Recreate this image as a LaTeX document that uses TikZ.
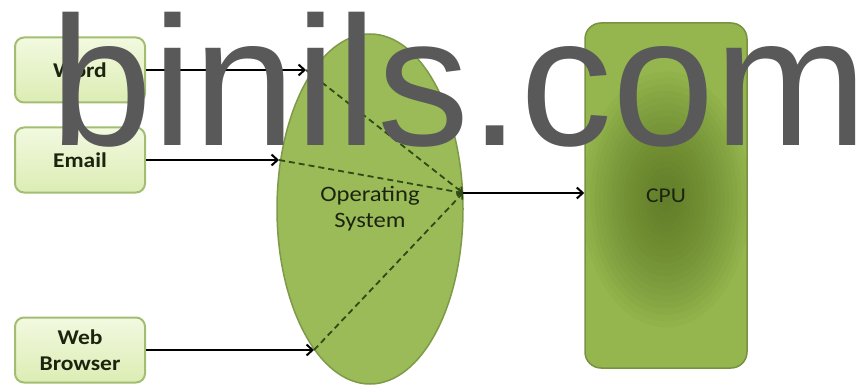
\documentclass[tikz,border=0pt]{standalone}
\usepackage{fontspec}
\usetikzlibrary{shapes.geometric,arrows.meta,positioning}
\newfontfamily\diagfont[FakeStretch=1.12]{Carlito}
\newfontfamily\markfont{Liberation Sans}
\definecolor{boxedge}{HTML}{A3BE73}
\definecolor{boxtop}{HTML}{F2F9E0}
\definecolor{boxbot}{HTML}{DCEDB4}
\definecolor{osfill}{HTML}{9BBB59}
\definecolor{osedge}{HTML}{7E9A48}
\definecolor{cpudark}{HTML}{52691E}
\definecolor{cpulight}{HTML}{95B64E}
\definecolor{cpuedge}{HTML}{789240}
\definecolor{routegreen}{HTML}{2F4A14}
\definecolor{txtdark}{HTML}{1C2410}
\definecolor{markgray}{HTML}{595959}

\begin{document}
\begin{tikzpicture}[x=1pt, y=-1pt,
  appbox/.style={draw=boxedge, line width=2pt, rounded corners=9pt,
    top color=boxtop, bottom color=boxbot, minimum width=130pt,
    minimum height=65pt, align=center, text=txtdark,
    font=\diagfont\fontsize{21}{26}\selectfont\bfseries},
  osnode/.style={ellipse, draw=osedge, fill=osfill, line width=1.5pt,
    minimum width=186pt, minimum height=350pt, inner sep=0pt, align=center,
    text=txtdark, font=\diagfont\fontsize{22}{26}\selectfont},
  cpunode/.style={draw=cpuedge, line width=1.5pt, rounded corners=16pt,
    fill=cpulight, minimum width=162pt, minimum height=345pt,
    path picture={
      \foreach \k in {20,...,1}
        \fill[cpudark, opacity=0.05] ([yshift=-4pt]path picture bounding box.center)
          ellipse [x radius=4.2*\k pt, y radius=6.4*\k pt];
    },
    text=txtdark, font=\diagfont\fontsize{21}{26}\selectfont},
  feed/.style={line width=2pt, -{Straight Barb[length=6pt,width=11pt]}},
  route/.style={draw=routegreen, line width=1.8pt, dash pattern=on 6pt off 4pt,
    -{Straight Barb[length=4pt,width=8pt]}}]

  \useasboundingbox (0,0) rectangle (862,385);

  \node[osnode] (os) at (370,209) {Operating\\System};
  \node[cpunode] (cpu) at (666,195.5) {CPU};
  \coordinate (hub) at (463,193);

  % one box per application, each feeding the OS
  \foreach \name/\y/\entry/\label in {word/70/306/Word, mail/160/279/Email, web/350/314/{Web\\Browser}} {
    \node[appbox] (\name) at (80,\y) {\label};
    \coordinate (\name in) at (\entry,\y);
    \draw[feed] (\name) -- (\name in);
    \draw[route] (\name in) -- (hub);
  }
  \draw[feed] (hub) -- (hub -| cpu.west);

  \node[anchor=base west, inner sep=0pt, text=markgray,
    font=\markfont\fontsize{184}{184}\selectfont] (mark) at (50,146) {binils.com};
\end{tikzpicture}
\end{document}
